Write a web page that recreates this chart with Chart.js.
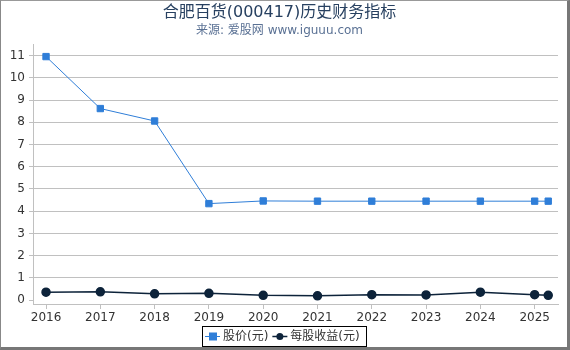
<!DOCTYPE html>
<html>
<head>
<meta charset="utf-8">
<script src="https://cdn.jsdelivr.net/npm/chart.js@4"></script>
<style>
  body { margin: 0; background: #fff; }
  #wrap {
    width: 570px; height: 350px; box-sizing: border-box;
    border-top: 1px solid #999; border-left: 1px solid #888;
    border-right: 3px solid #777; border-bottom: 3px solid #777;
  }
  #myChart { display: block; }
</style>
</head>
<body>
<div id="wrap"><canvas id="myChart" width="566" height="346"></canvas></div>
<script>
var years = [2016, 2017, 2018, 2019, 2020, 2021, 2022, 2023, 2024, 2025, 2025.25];
var price = [10.96, 8.62, 8.06, 4.34, 4.46, 4.45, 4.45, 4.45, 4.45, 4.45, 4.45];
var eps = [0.35, 0.37, 0.28, 0.30, 0.21, 0.19, 0.24, 0.23, 0.35, 0.24, 0.21];
var yearTicks = [2016, 2017, 2018, 2019, 2020, 2021, 2022, 2023, 2024, 2025];
var valueTicks = [0, 1, 2, 3, 4, 5, 6, 7, 8, 9, 10, 11];

var fontFamily = '"DejaVu Sans", "Noto Sans CJK SC", sans-serif';
var priceColor = "#2f7ed8";
var epsColor = "#0d233a";

function toPoints(vals) {
    return vals.map(function (v, i) { return { x: years[i], y: v }; });
}

// legend drawn by hand: boxed, line + marker symbols like the original
var boxLegend = {
    id: "boxLegend",
    afterDraw: function (chart) {
        var ctx = chart.ctx;
        var sets = chart.data.datasets;
        var left = 201, top = 325, w = 164, h = 20;
        var mid = top + h / 2;
        ctx.save();
        ctx.strokeStyle = "#000";
        ctx.lineWidth = 1;
        ctx.strokeRect(left + 0.5, top + 0.5, w, h);
        ctx.font = "12px " + fontFamily;
        ctx.textBaseline = "middle";
        var x = left + 3;
        sets.forEach(function (ds, i) {
            ctx.strokeStyle = ds.borderColor;
            ctx.fillStyle = ds.borderColor;
            ctx.lineWidth = i == 0 ? 1 : 1.5;
            ctx.beginPath();
            ctx.moveTo(x, mid + 0.5);
            ctx.lineTo(x + 15, mid + 0.5);
            ctx.stroke();
            if (i == 0) {
                ctx.fillRect(x + 4, mid - 3.5, 8, 8);
            } else {
                ctx.beginPath();
                ctx.arc(x + 7.5, mid + 0.5, 3.5, 0, Math.PI * 2);
                ctx.fill();
            }
            ctx.fillStyle = "#333";
            ctx.fillText(ds.label, x + 18, mid + 1);
            x += 18 + ctx.measureText(ds.label).width + 4;
        });
        ctx.restore();
    }
};

var ctx = document.getElementById("myChart").getContext("2d");

var myChart = new Chart(ctx, {
    type: "line",
    data: {
        datasets: [
            {
                label: "股价(元)",
                data: toPoints(price),
                borderColor: priceColor,
                backgroundColor: priceColor,
                borderWidth: 1,
                pointStyle: "rect",
                pointRadius: 4.5,
                pointHoverRadius: 4.5,
                fill: false,
                lineTension: 0,
            },
            {
                label: "每股收益(元)",
                data: toPoints(eps),
                borderColor: epsColor,
                backgroundColor: epsColor,
                borderWidth: 1.5,
                pointStyle: "circle",
                pointRadius: 4,
                pointHoverRadius: 4,
                fill: false,
                lineTension: 0,
            },
        ],
    },
    options: {
        responsive: false,
        animation: false,
        layout: { padding: { left: 0, right: 9, top: 0, bottom: 20 } },
        scales: {
            x: {
                type: "linear",
                min: 2015.76,
                max: 2025.43,
                afterBuildTicks: function (scale) {
                    scale.ticks = yearTicks.map(function (v) { return { value: v }; });
                },
                afterFit: function (scale) { scale.height = 23; },
                grid: { color: "rgba(0,0,0,0)", tickColor: "#c0c0c0", tickLength: 5, drawTicks: true },
                border: { display: true, color: "#c0c0c0" },
                ticks: {
                    color: "#333",
                    font: { family: fontFamily, size: 12 },
                    padding: 2,
                    maxRotation: 0,
                    callback: function (v) { return String(v); },
                },
            },
            y: {
                min: -0.18,
                max: 11.5,
                afterBuildTicks: function (scale) {
                    scale.ticks = valueTicks.map(function (v) { return { value: v }; });
                },
                afterFit: function (scale) { scale.width = 32; },
                grid: {
                    color: function (c) { return c.tick && c.tick.value === 0 ? "rgba(0,0,0,0)" : "#c0c0c0"; },
                    tickColor: "#c0c0c0",
                    tickLength: 4,
                },
                border: { display: true, color: "#c0c0c0" },
                ticks: {
                    color: "#333",
                    font: { family: fontFamily, size: 12 },
                    padding: 4,
                },
            },
        },
        plugins: {
            title: {
                display: true,
                text: "合肥百货(000417)历史财务指标",
                color: "#274060",
                font: { family: fontFamily, size: 16, weight: "normal" },
                padding: { top: 2, bottom: 1 },
            },
            subtitle: {
                display: true,
                text: "来源: 爱股网 www.iguuu.com",
                color: "#5a7194",
                font: { family: fontFamily, size: 12 },
                padding: { top: 0, bottom: 7 },
            },
            legend: { display: false },
            tooltip: { enabled: false },
        },
    },
    plugins: [boxLegend],
});
</script>
</body>
</html>
